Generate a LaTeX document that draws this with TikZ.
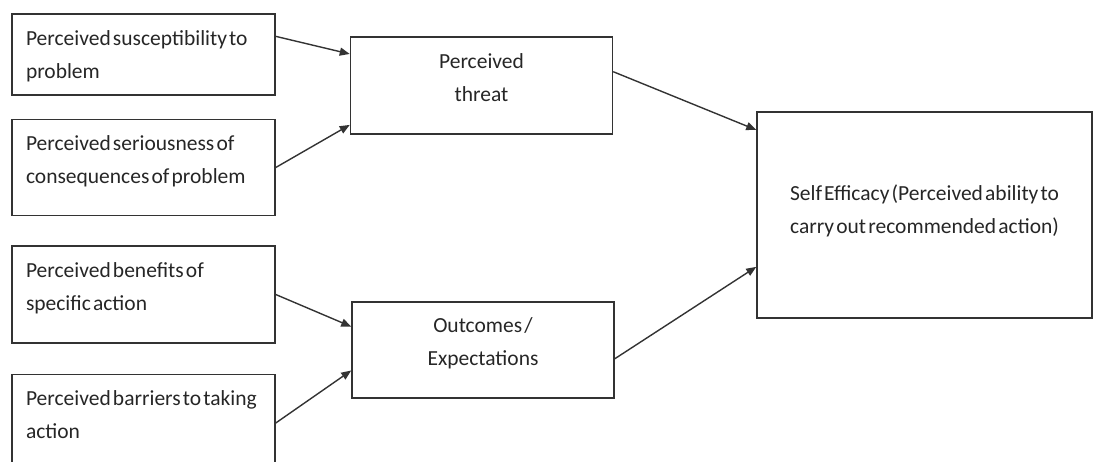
\documentclass[tikz,border=0pt]{standalone}
\usepackage{fontspec}
\setmainfont[WordSpace=0.45]{Carlito}
\usepackage{xcolor}
\definecolor{cLine}{HTML}{333333}
\definecolor{cText}{HTML}{262626}
\usepackage{tikz}
\usetikzlibrary{positioning,arrows.meta,calc}
\tikzset{
  node-factor/.style={draw=cLine,line width=1.5pt,minimum width=263pt,
    text width=235pt,inner xsep=14pt,inner ysep=0pt,align=flush left,
    text=cText,text height=31pt,font=\fontsize{21.5}{33}\selectfont},
  node-mid/.style={draw=cLine,line width=1.5pt,minimum width=262pt,
    minimum height=97pt,align=center,text=cText,text depth=16pt,
    font=\fontsize{21.5}{33}\selectfont},
  % box on the right, bigger
  node-goal/.style={draw=cLine,line width=1.5pt,minimum width=335pt,
    minimum height=206pt,align=center,text=cText,text depth=11pt,
    font=\fontsize{21.5}{33}\selectfont},
  arrow/.style={-{Triangle[length=10pt,width=8pt]},line width=1.4pt,draw=cLine},
}

\begin{document}
\begin{tikzpicture}[x=1pt,y=-1pt,node distance=23pt]
  \useasboundingbox (0,0) rectangle (1095,461);
  \node[node-factor,text depth=50pt] (susc) at (143.5,54.5)
    {Perceived susceptibility to\\problem};
  \node[node-factor,text depth=65pt,below=23pt of susc] (seri)
    {Perceived seriousness of\\consequences of problem};
  \node[node-factor,text depth=66pt,below=29pt of seri] (bene)
    {Perceived benefits of\\specific action};
  \node[node-factor,text depth=66pt,below=30pt of bene] (barr)
    {Perceived barriers to taking\\action};

  \node[node-mid] (threat) at (481.5,85.5) {Perceived\\threat};
  \node[node-mid,minimum height=96pt] (outc) at (483,350) {Outcomes /\\Expectations};
  \node[node-goal] (self) at (924.5,215)
    {Self Efficacy (Perceived ability to\\carry out recommended action)};

  \draw[arrow] ($(susc.north east)!0.28!(susc.south east)$) -- ($(threat.north west)!0.18!(threat.south west)$);
  \draw[arrow] (seri.east) -- ($(threat.north west)!0.9!(threat.south west)$);
  \draw[arrow] (bene.east) -- ($(outc.north west)!0.26!(outc.south west)$);
  \draw[arrow] (barr.east) -- ($(outc.north west)!0.71!(outc.south west)$);
  \draw[arrow] ($(threat.north east)!0.36!(threat.south east)$) -- ($(self.north west)!0.09!(self.south west)$);
  \draw[arrow] ($(outc.north east)!0.59!(outc.south east)$) -- ($(self.north west)!0.75!(self.south west)$);
\end{tikzpicture}
\end{document}
